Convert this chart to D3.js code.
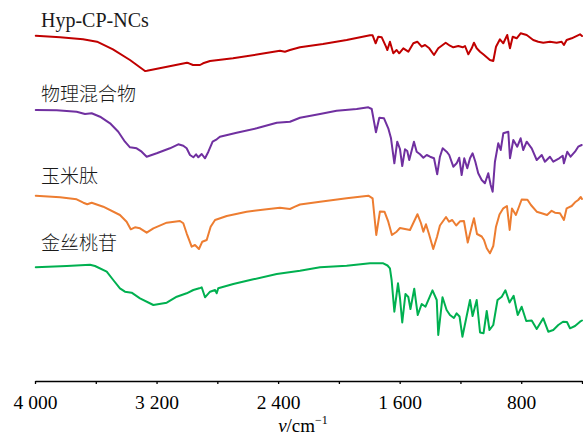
<!DOCTYPE html>
<html>
<head>
<meta charset="utf-8">
<script src="https://cdn.jsdelivr.net/npm/d3@7"></script>
<style>
  html, body { margin: 0; padding: 0; background: #fff; }
  svg { display: block; }
</style>
</head>
<body>
<svg id="chart" width="583" height="435"></svg>
<script>
// ---- Data (wavenumber cm^-1, relative intensity in arbitrary units, offset per trace) ----
const seriesNames = ["Hyp-CP-NCs", "物理混合物", "玉米肽", "金丝桃苷"];
const seriesColors = ["#c00000", "#7030a0", "#ed7d31", "#00b050"];

const hypCPNCs = [
  [3995,324.3],[3835,322.7],[3684,320.7],[3592,318.3],[3487,310.7],[3375,300],[3276,289],[3263,289.3],
  [3131,293.3],[3000,297.3],[2987,296.7],[2960,295],[2914,295],[2894,296.7],[2848,299],[2697,301.7],
  [2519,306],[2388,309.3],[2355,308.3],[2322,310],[2256,312.8],[2105,316],[1949,320],[1795,324.7],
  [1778,324.7],[1758,316.7],[1741,323.3],[1718,322.7],[1690,313.3],[1681,310],[1664,318.3],[1642,306.7],
  [1620,310],[1603,306.7],[1576,311.7],[1543,308.3],[1510,316.7],[1484,318.3],[1455,313.3],[1433,315],
  [1405,311.7],[1374,305],[1346,311.7],[1297,317.3],[1269,314.3],[1247,312.7],[1214,314],[1185,312.7],
  [1170,314],[1148,305.7],[1126,311.7],[1111,317.3],[1093,311.7],[1071,308.3],[1050,305.7],[1027,302.7],
  [1006,300],[984,299],[966,313.3],[940,320.7],[918,316.7],[892,325],[874,311.7],[856,323.3],
  [830,321.7],[804,326.7],[764,325],[721,320],[688,318.3],[655,317.3],[611,318.3],[567,317.3],
  [534,318.3],[519,315],[501,320],[468,321.7],[413,325.7],[400,324]
];

const physicalMixture = [
  [3995,250],[3857,249.7],[3726,248.3],[3671,246],[3627,246.7],[3572,243.3],[3506,236.7],[3452,228.3],
  [3408,218.3],[3375,212.7],[3331,211.7],[3298,208.3],[3265,203.3],[3199,206.7],[3112,211.7],[3057,215.7],
  [3024,214.3],[3002,211.7],[2980,205],[2958,202.7],[2940,205.7],[2925,202.7],[2903,206],[2881,201.7],
  [2859,208.3],[2831,218.3],[2804,220.7],[2783,223.3],[2673,227.3],[2541,231.7],[2409,237.3],[2322,238.3],
  [2256,242.3],[2124,246],[2015,249.3],[1883,251],[1806,252.7],[1784,251],[1756,227.7],[1734,242.3],
  [1703,241.7],[1675,231.7],[1657,221.7],[1635,196.7],[1616,218.3],[1598,211],[1583,194],[1565,210.7],
  [1550,209],[1537,200],[1506,218.3],[1488,208.3],[1466,205.7],[1444,202.3],[1422,205],[1400,203.3],
  [1374,201.7],[1353,185.7],[1335,203.3],[1317,211.7],[1291,208.3],[1274,205],[1247,193.3],[1225,196.7],
  [1208,202.3],[1192,185],[1175,201.7],[1155,191.7],[1137,201.7],[1120,206.7],[1102,198.3],[1083,186.7],
  [1060,180],[1039,176.7],[1017,186.7],[1001,175],[988,168.3],[973,198.3],[951,216.7],[935,210],
  [918,226.7],[885,228.3],[874,201.7],[852,220],[826,213.3],[804,221.7],[787,210],[764,218.3],
  [731,211.7],[698,200],[665,205],[644,198.3],[611,203.3],[589,198.3],[550,201.7],[527,204.3],
  [519,196.7],[497,208.3],[475,203.3],[446,208.3],[425,213.3],[402,215]
];

const zeinPeptide = [
  [3995,164.3],[3835,162.7],[3726,160.7],[3682,157.3],[3656,155.7],[3627,157.3],[3551,153.3],[3441,145],
  [3397,138.3],[3370,130.7],[3342,132.7],[3309,131.7],[3265,127.3],[3221,131.7],[3133,137.3],[3046,139],
  [3024,136.7],[3002,126.7],[2969,113.3],[2947,115],[2921,111],[2899,118.3],[2870,120],[2844,133.3],
  [2815,140],[2738,144],[2607,148.3],[2475,150.7],[2388,152.3],[2322,151],[2289,153.3],[2256,155.5],
  [2124,158.3],[1949,161.7],[1806,164.3],[1778,161.7],[1754,125],[1730,148.5],[1700,148.3],[1675,138.3],
  [1651,125],[1620,128.3],[1598,132],[1532,130],[1483,145.8],[1460,137],[1444,128.3],[1427,135.7],
  [1407,126],[1379,111],[1354,123.3],[1335,134.5],[1295,143],[1275,138.3],[1254,140],[1228,134.5],
  [1203,138.7],[1177,139],[1152,117.5],[1126,133.3],[1111,141.8],[1091,126],[1060,123.5],[1045,120],
  [1027,111.7],[1006,106.7],[984,114],[966,133.3],[943,145.5],[918,151.7],[894,154],[876,130],
  [861,151.5],[835,145],[797,160.5],[759,160.3],[736,155],[698,148.3],[660,146.5],[630,145],
  [600,149.2],[578,147.3],[545,146.7],[519,140],[501,151.7],[468,154],[446,157.7],[425,160],
  [408,163],[400,161]
];

const hyperoside = [
  [3995,92.7],[3791,94],[3638,95.3],[3605,94],[3528,88.3],[3485,80],[3441,71.7],[3408,68.3],
  [3364,67.3],[3309,61.7],[3221,55],[3133,57.3],[3067,63.3],[3002,66.7],[2958,70],[2919,71.7],
  [2903,72.7],[2881,62.7],[2848,68.3],[2815,70],[2804,66.7],[2794,71.7],[2695,76],[2563,80.7],
  [2409,86],[2256,89.3],[2124,92.7],[1949,94.3],[1795,96.7],[1708,96.7],[1680,94.5],[1664,91.7],
  [1653,80],[1635,48.3],[1611,76.7],[1598,62],[1583,37.5],[1562,66],[1543,63],[1529,51],
  [1504,71.3],[1481,45],[1455,56],[1430,53.3],[1384,69.7],[1356,60],[1346,25],[1318,62.8],
  [1291,50],[1269,45],[1243,42],[1225,46.7],[1206,43.5],[1187,23.3],[1159,44],[1137,60],
  [1120,44],[1093,60],[1071,27.5],[1048,26.7],[1027,49],[1009,30],[984,35],[956,60],
  [928,63.3],[904,69.7],[877,57.5],[850,64.2],[823,45],[797,53.3],[767,39],[731,39.5],
  [698,31],[655,41.7],[622,28.3],[589,30],[556,35],[525,38.3],[499,38],[479,31.7],
  [446,34],[413,38.3],[400,39.5]
];

const allSeries = [hypCPNCs, physicalMixture, zeinPeptide, hyperoside];

const tickValues = [4000, 3600, 3200, 2800, 2400, 2000, 1600, 1200, 800, 400];
const labeledTicks = [4000, 3200, 2400, 1600, 800];

// ---- Chart ----
const svg = d3.select("#chart");
const x = d3.scaleLinear().domain([4000, 400]).range([35, 582]);
const y = d3.scaleLinear().domain([0, 340]).range([360, 20]);

const locale = d3.formatLocale({decimal: ".", thousands: " ", grouping: [3], currency: ["", ""]});
const fmt = locale.format(",d");

const line = d3.line().x(d => x(d[0])).y(d => y(d[1]));

svg.selectAll("path.trace")
  .data(allSeries)
  .join("path")
  .attr("class", "trace")
  .attr("d", line)
  .attr("fill", "none")
  .attr("stroke", (d, i) => seriesColors[i])
  .attr("stroke-width", 2)
  .attr("stroke-linejoin", "round")
  .attr("stroke-linecap", "round");

// series labels
const labelPos = [
  {x: 41, y: 27, font: "'Liberation Serif', 'Times New Roman', serif", size: 20},
  {x: 41, y: 100.5, font: "'Noto Sans CJK SC', sans-serif", size: 19},
  {x: 41, y: 182.5, font: "'Noto Sans CJK SC', sans-serif", size: 19},
  {x: 41, y: 249.5, font: "'Noto Sans CJK SC', sans-serif", size: 19}
];
svg.selectAll("text.series-label")
  .data(seriesNames)
  .join("text")
  .attr("class", "series-label")
  .attr("x", (d, i) => labelPos[i].x)
  .attr("y", (d, i) => labelPos[i].y)
  .attr("font-family", (d, i) => labelPos[i].font)
  .attr("font-size", (d, i) => labelPos[i].size)
  .attr("font-weight", (d, i) => i === 0 ? "normal" : 300)
  .attr("fill", "#1a1a1a")
  .text(d => d);

// x axis
const axis = d3.axisBottom(x)
  .tickValues(tickValues)
  .tickSize(3)
  .tickSizeOuter(0)
  .tickPadding(11.5)
  .tickFormat(d => labeledTicks.includes(d) ? fmt(d) : "");

const gx = svg.append("g")
  .attr("transform", "translate(0,381)")
  .call(axis);
gx.select(".domain").attr("stroke", "#000").attr("stroke-width", 1.5);
gx.selectAll(".tick line").attr("stroke", "#000").attr("stroke-width", 1.3);
gx.selectAll(".tick text")
  .attr("font-family", "'Liberation Serif', 'Times New Roman', serif")
  .attr("font-size", 19.5)
  .attr("fill", "#000");

// axis title
const title = svg.append("text")
  .attr("x", 303)
  .attr("y", 431.5)
  .attr("text-anchor", "middle")
  .attr("font-family", "'Liberation Serif', 'Times New Roman', serif")
  .attr("font-size", 19)
  .attr("fill", "#000");
title.append("tspan").attr("font-style", "italic").text("ν");
title.append("tspan").text("/cm");
title.append("tspan").attr("font-size", 12).attr("dy", -8).text("−1");
</script>
</body>
</html>
